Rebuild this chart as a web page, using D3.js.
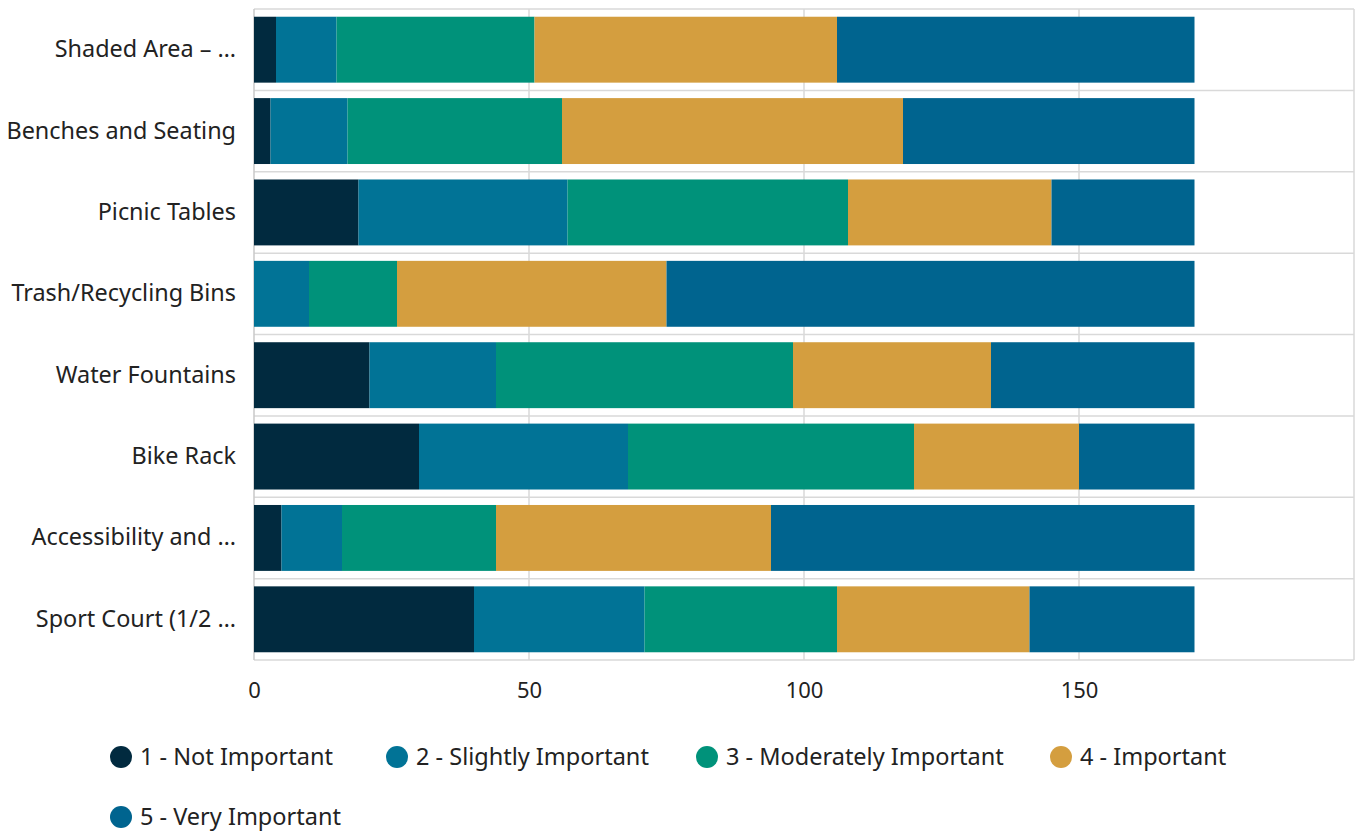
<!DOCTYPE html>
<html>
<head>
<meta charset="utf-8">
<script src="https://cdn.jsdelivr.net/npm/d3@7"></script>
<style>
body { margin: 0; background: #fff; }
svg { font-family: "Segoe UI", "Noto Sans", "Open Sans", sans-serif; }
</style>
</head>
<body>
<svg id="chart" width="1362" height="832"></svg>
<script>
var categories = ['Shaded Area – …', 'Benches and Seating', 'Picnic Tables', 'Trash/Recycling Bins',
	'Water Fountains', 'Bike Rack', 'Accessibility and …', 'Sport Court (1/2 …'];
var seriesNames = ['1 - Not Important', '2 - Slightly Important', '3 - Moderately Important', '4 - Important', '5 - Very Important'];
var notImportant      = [4, 3, 19, 0, 21, 30, 5, 40];
var slightlyImportant = [11, 14, 38, 10, 23, 38, 11, 31];
var moderately        = [36, 39, 51, 16, 54, 52, 28, 35];
var important         = [55, 62, 37, 49, 36, 30, 50, 35];
var veryImportant     = [65, 53, 26, 96, 37, 21, 77, 30];
var xTicks = [0, 50, 100, 150];
var colors = ['#012a3f', '#017396', '#00927a', '#d49e3f', '#00648f'];

var series = [notImportant, slightlyImportant, moderately, important, veryImportant];
var rows = categories.map(function(c, i){
	var r = { name: c };
	seriesNames.forEach(function(s, j){ r[s] = series[j][i]; });
	return r;
});
var stacked = d3.stack().keys(seriesNames)(rows);

var svg = d3.select('#chart');
var plotLeft = 254, plotRight = 1354, plotTop = 9, plotBottom = 660;

var x = d3.scaleLinear().domain([0, 200]).range([plotLeft, plotRight]);
var y = d3.scaleBand().domain(categories).range([plotTop, plotBottom]).paddingInner(0.19).paddingOuter(0.095);

// grid
svg.append('g').selectAll('line')
	.data(xTicks.slice(1).concat([200]))
	.enter().append('line')
	.attr('x1', function(d){ return x(d); }).attr('x2', function(d){ return x(d); })
	.attr('y1', plotTop).attr('y2', plotBottom)
	.attr('stroke', '#d9d9d9').attr('stroke-width', 1.5);

var step = (plotBottom - plotTop) / categories.length;
svg.append('g').selectAll('line')
	.data(d3.range(categories.length + 1))
	.enter().append('line')
	.attr('x1', plotLeft).attr('x2', plotRight)
	.attr('y1', function(d){ return plotTop + d * step; }).attr('y2', function(d){ return plotTop + d * step; })
	.attr('stroke', '#d9d9d9').attr('stroke-width', 1.5);

svg.append('line')
	.attr('x1', plotLeft).attr('x2', plotLeft).attr('y1', plotTop).attr('y2', plotBottom)
	.attr('stroke', '#c8c8c8').attr('stroke-width', 1.5);

// bars
svg.append('g').selectAll('g')
	.data(stacked)
	.enter().append('g')
	.attr('fill', function(d, i){ return colors[i]; })
	.selectAll('rect')
	.data(function(d){ return d; })
	.enter().append('rect')
	.attr('x', function(d){ return x(d[0]); })
	.attr('width', function(d){ return x(d[1]) - x(d[0]); })
	.attr('y', function(d){ return y(d.data.name); })
	.attr('height', y.bandwidth());

// x axis
var xAxis = svg.append('g')
	.attr('transform', 'translate(0,' + plotBottom + ')')
	.call(d3.axisBottom(x).tickValues(xTicks).tickSize(0).tickPadding(22));
xAxis.select('.domain').remove();
xAxis.selectAll('text').attr('font-size', 22).attr('fill', '#222')
	.attr('font-family', '"Segoe UI", "Noto Sans", sans-serif');

// y axis
var yAxis = svg.append('g')
	.attr('transform', 'translate(' + (plotLeft - 18) + ',0)')
	.call(d3.axisLeft(y).tickSize(0).tickPadding(0));
yAxis.select('.domain').remove();
yAxis.selectAll('text').attr('font-size', 23.4).attr('fill', '#222')
	.attr('font-family', '"Segoe UI", "Noto Sans", sans-serif');

// legend
var legendPos = [[121, 757], [397, 757], [707, 757], [1061, 757], [121, 817]];
var legend = svg.append('g').selectAll('g')
	.data(seriesNames)
	.enter().append('g')
	.attr('transform', function(d, i){ return 'translate(' + legendPos[i][0] + ',' + legendPos[i][1] + ')'; });
legend.append('circle').attr('r', 11).attr('fill', function(d, i){ return colors[i]; });
legend.append('text')
	.attr('x', 19).attr('dy', '0.35em')
	.attr('font-size', 23.5).attr('fill', '#222')
	.text(function(d){ return d; });
</script>
</body>
</html>
